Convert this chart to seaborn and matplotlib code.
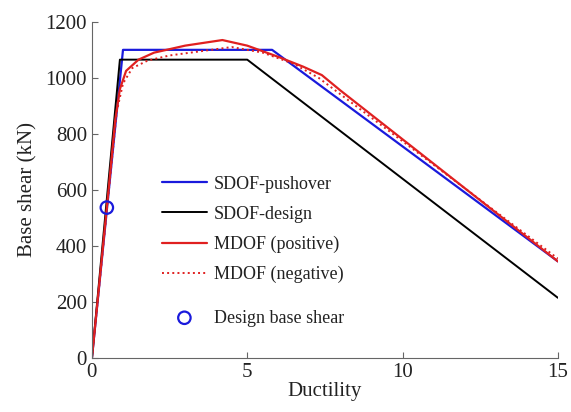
import matplotlib
matplotlib.use("Agg")
import matplotlib.pyplot as plt
import seaborn as sns

# SDOF-pushover
push_x = [0, 1.0, 5.8, 15]
push_y = [0, 1100, 1100, 345]
# SDOF-design
des_x = [0, 0.9, 5.0, 15]
des_y = [0, 1065, 1065, 215]
# MDOF (positive)
pos_x = [0, 0.5, 0.75, 0.9, 1.1, 1.5, 2.0, 3.0, 4.2, 5.0, 6.0, 6.8, 7.4, 8.0, 15.0]
pos_y = [0, 560, 850, 960, 1025, 1065, 1090, 1115, 1135, 1115, 1075, 1040, 1010, 955, 345]
# MDOF (negative)
neg_x = [0, 0.5, 0.8, 1.0, 1.3, 1.8, 2.5, 3.5, 4.5, 5.5, 6.5, 7.3, 15.0]
neg_y = [0, 550, 880, 980, 1035, 1062, 1080, 1095, 1110, 1090, 1050, 1000, 355]
# Design base shear
dbs_x = [0.48]
dbs_y = [537]

sns.set_style("ticks")
plt.rcParams['font.family'] = ['Liberation Serif', 'DejaVu Serif']
plt.rcParams['xtick.direction'] = 'in'
plt.rcParams['ytick.direction'] = 'in'

fig = plt.figure(figsize=(5.71, 4.12), dpi=100)
ax = fig.add_axes([0.161, 0.131, 0.816, 0.816])

blue = '#1a1adc'
red = '#e02020'
sns.lineplot(x=push_x, y=push_y, ax=ax, color=blue, lw=1.6, label='SDOF-pushover', sort=False)
sns.lineplot(x=des_x, y=des_y, ax=ax, color='black', lw=1.4, label='SDOF-design', sort=False)
sns.lineplot(x=pos_x, y=pos_y, ax=ax, color=red, lw=1.6, label='MDOF (positive)', sort=False)
sns.lineplot(x=neg_x, y=neg_y, ax=ax, color=red, lw=1.4, ls=':', label='MDOF (negative)', sort=False)
sns.scatterplot(x=dbs_x, y=dbs_y, ax=ax, marker='o', s=80, facecolor='none',
                edgecolor=blue, linewidth=1.6, label='Design base shear', zorder=5)

ax.set_xlim(0, 15)
ax.set_ylim(0, 1200)
ax.set_xticks([0, 5, 10, 15])
ax.set_yticks(range(0, 1201, 200))
ax.set_xlabel('Ductility', fontsize=15, labelpad=0, color='#222222')
ax.set_ylabel('Base shear (kN)', fontsize=15, labelpad=6, color='#222222')
ax.tick_params(labelsize=15, length=4, color='#666666', labelcolor='#222222')
for s in ['top', 'right']:
    ax.spines[s].set_visible(False)
for s in ['left', 'bottom']:
    ax.spines[s].set_color('#666666')

handles, labels = ax.get_legend_handles_labels()
leg1 = ax.legend(handles[:4], labels[:4], loc='upper left', bbox_to_anchor=(0.150, 0.542),
                 frameon=False, fontsize=13, handlelength=2.5, labelspacing=0.72,
                 handletextpad=0.4, borderpad=0, borderaxespad=0)
for t in leg1.get_texts():
    t.set_color('#222222')
ax.add_artist(leg1)
leg2 = ax.legend(handles[4:], labels[4:], loc='center left', bbox_to_anchor=(0.150, 0.119),
                 frameon=False, fontsize=13, handlelength=2.5, handletextpad=0.4,
                 borderpad=0, borderaxespad=0)
for t in leg2.get_texts():
    t.set_color('#222222')

fig.savefig('out.png', dpi=100)
